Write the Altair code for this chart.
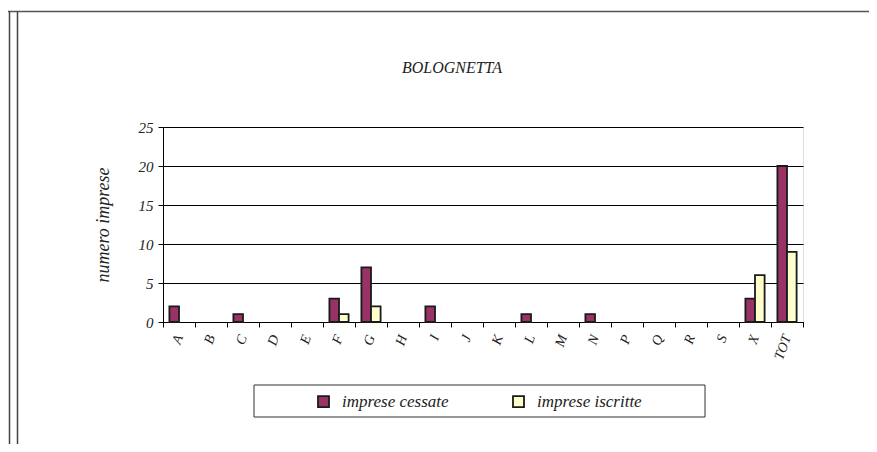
import altair as alt
import pandas as pd

categories = ["A", "B", "C", "D", "E", "F", "G", "H", "I", "J", "K", "L", "M", "N", "P", "Q", "R", "S", "X", "TOT"]
cessate = [2, 0, 1, 0, 0, 3, 7, 0, 2, 0, 0, 1, 0, 1, 0, 0, 0, 0, 3, 20]
iscritte = [0, 0, 0, 0, 0, 1, 2, 0, 0, 0, 0, 0, 0, 0, 0, 0, 0, 0, 6, 9]
series = ["imprese cessate", "imprese iscritte"]
colors = ["#993366", "#FFFFCC"]
y_ticks = [0, 5, 10, 15, 20, 25]
title_text = ["BOLOGNETTA"]
y_title = "numero imprese"

FONT = "'Liberation Serif', 'Times New Roman', Times, serif"
TXT = "#222222"

rows = []
for c, a, b in zip(categories, cessate, iscritte):
    rows.append({"cat": c, "serie": series[0], "val": a})
    rows.append({"cat": c, "serie": series[1], "val": b})
df = pd.DataFrame(rows)
df_nz = df[df["val"] > 0]

one = pd.DataFrame({"k": [0]})
tdf = pd.DataFrame({"t": title_text})

W, H = 640, 195

bars = alt.Chart(df_nz).mark_bar(stroke="#1a1a1a", strokeWidth=1.8).encode(
    x=alt.X("cat:N", sort=categories,
            scale=alt.Scale(domain=categories, paddingInner=0, paddingOuter=0),
            axis=alt.Axis(title=None, labelAngle=-70, labelAlign="right", labelBaseline="middle",
                          labelFont=FONT, labelFontStyle="italic", labelFontSize=14, labelColor=TXT,
                          tickBand="extent", tickSize=5, tickColor="#000", domainColor="#000",
                          labelPadding=8, grid=False)),
    xOffset=alt.XOffset("serie:N", sort=series,
                        scale=alt.Scale(domain=series, paddingInner=0, paddingOuter=0.667)),
    y=alt.Y("val:Q", scale=alt.Scale(domain=[0, 25], nice=False),
            axis=alt.Axis(values=y_ticks, title=y_title, titleFont=FONT, titleFontStyle="italic",
                          titleFontWeight="normal", titleFontSize=18, titleColor=TXT,
                          titleX=-60, titleY=H / 2, titleAngle=-90, titleAlign="center",
                          titleBaseline="middle",
                          labelFont=FONT, labelFontStyle="italic", labelFontSize=15, labelColor=TXT,
                          labelPadding=5, tickSize=5, tickColor="#000", domainColor="#000",
                          grid=True, gridColor="#000", gridWidth=1)),
    color=alt.Color("serie:N", sort=series, scale=alt.Scale(domain=series, range=colors),
                    legend=alt.Legend(title=None, orient="none", direction="horizontal",
                                      legendX=152, legendY=266, padding=0,
                                      symbolType="square", symbolSize=121,
                                      symbolStrokeColor="#1a1a1a", symbolStrokeWidth=1.8,
                                      labelFont=FONT, labelFontStyle="italic", labelFontSize=17,
                                      labelColor=TXT, labelOffset=10, columnPadding=60,
                                      labelLimit=300)),
)

# decorative frame lines and legend box
frame_top = alt.Chart(one).mark_rule(color="#555555", strokeWidth=1.5).encode(
    x=alt.value(-155), x2=alt.value(706), y=alt.value(-115.5))
frame_l1 = alt.Chart(one).mark_rule(color="#444444", strokeWidth=1.5).encode(
    x=alt.value(-153.5), y=alt.value(-115.5), y2=alt.value(317))
frame_l2 = alt.Chart(one).mark_rule(color="#444444", strokeWidth=1.5).encode(
    x=alt.value(-145.5), y=alt.value(-115.5), y2=alt.value(317))
legend_box = alt.Chart(one).mark_rect(fill="white", stroke="#333333", strokeWidth=1).encode(
    x=alt.value(91), x2=alt.value(542), y=alt.value(258), y2=alt.value(290))

title_mark = alt.Chart(tdf).mark_text(font=FONT, fontStyle="italic", fontSize=16, color=TXT,
                                      align="center", baseline="alphabetic").encode(
    text="t:N", x=alt.value(289), y=alt.value(-54))

chart = alt.layer(frame_top, frame_l1, frame_l2, legend_box, title_mark, bars).properties(
    width=W, height=H,
    autosize=alt.AutoSizeParams(type="none"),
    padding={"left": 155, "top": 119, "right": 66, "bottom": 122},
).configure_view(stroke="#808080", strokeWidth=1).configure(background="white")

chart.save("out.html", embed_options={"renderer": "svg", "actions": False})
